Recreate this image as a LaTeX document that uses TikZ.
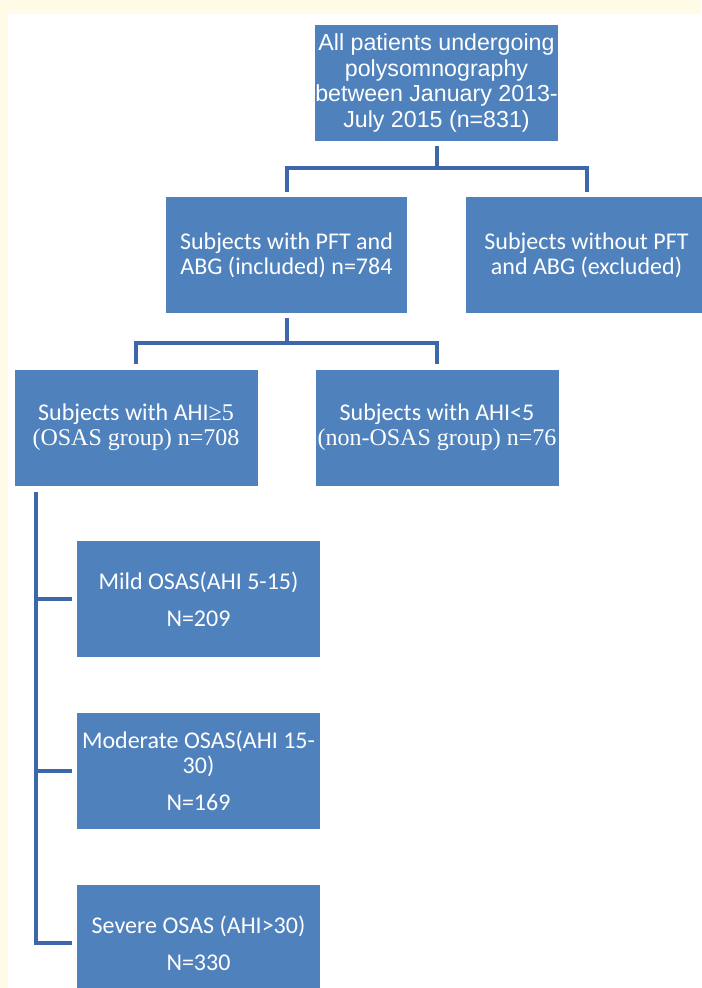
\documentclass[tikz,border=0pt]{standalone}
\usepackage{fontspec}
\setmainfont{Carlito}
\newfontfamily\arialfont{Liberation Sans}
\newfontfamily\timesfont{Liberation Serif}
\usepackage{xcolor}
\usepackage{tikz}
\usetikzlibrary{calc, positioning}
\definecolor{boxblue}{HTML}{4F81BD}
\definecolor{linkblue}{HTML}{3C67A9}
\definecolor{cream}{HTML}{FFFBE6}
\tikzset{
    boxnode/.style = {rectangle, fill=boxblue, draw=none, inner sep=0pt, node distance=0em,
      minimum width=121.5pt, minimum height=58pt, text=white, align=center,
      font=\fontsize{12}{12.5}\selectfont},
    connect/.style = {draw=linkblue, line width=2pt, shorten <=2.5pt, shorten >=2.5pt}
}

\begin{document}
\begin{tikzpicture}
\useasboundingbox (0,0) rectangle (350.5pt,-494pt);
\fill[cream] (0,0) rectangle (350.5pt,-494pt);
\fill[white] (4pt,-7pt) rectangle (350.5pt,-494pt);

\node[boxnode, name=top, font=\fontsize{11.6}{12.8}\arialfont] at (218.25pt,-41.5pt)
	{All patients undergoing\\polysomnography\\between January 2013-\\July 2015 (n=831)};

\node[boxnode, name=pft, below of = top, xshift=-75pt, yshift=-86pt, minimum width=120.5pt]
	{Subjects with PFT and\\ABG (included) n=784};
\node[boxnode, name=excl, right of = pft, xshift=150pt, minimum width=120.5pt]
	{Subjects without PFT\\and ABG (excluded)};

\node[boxnode, name=osas, below of = pft, xshift=-75.25pt, yshift=-86.25pt]
	{Subjects with AHI{\timesfont ≥5}\\{\timesfont (OSAS group) n=708}};
\node[boxnode, name=nonosas, right of = osas, xshift=150.5pt]
	{Subjects with AHI<5\\{\timesfont (non-OSAS group) n=76}};

\node[boxnode, name=mild, below of = osas, xshift=31.25pt, yshift=-85.75pt]
	{Mild OSAS(AHI 5-15)\\[6pt]N=209};
\node[boxnode, name=moderate, below of = mild, yshift=-86pt]
	{Moderate OSAS(AHI 15-\\30)\\[6pt]N=169};
\node[boxnode, name=severe, below of = moderate, yshift=-86pt]
	{Severe OSAS (AHI>30)\\[6pt]N=330};

% connectors
\draw[connect] (top.south) -- ++(0,-13.5pt) -| (pft.north);
\draw[connect] (top.south) -- ++(0,-13.5pt) -| (excl.north);
\draw[connect] (pft.south) -- ++(0,-15pt) -| (osas.north);
\draw[connect] (pft.south) -- ++(0,-15pt) -| (nonosas.north);

\coordinate (trunk) at ([xshift=11pt]osas.south west);
\foreach \leaf in {mild, moderate, severe}
	\draw[connect, shorten <=3pt] (trunk) |- (\leaf.west);
\end{tikzpicture}
\end{document}
